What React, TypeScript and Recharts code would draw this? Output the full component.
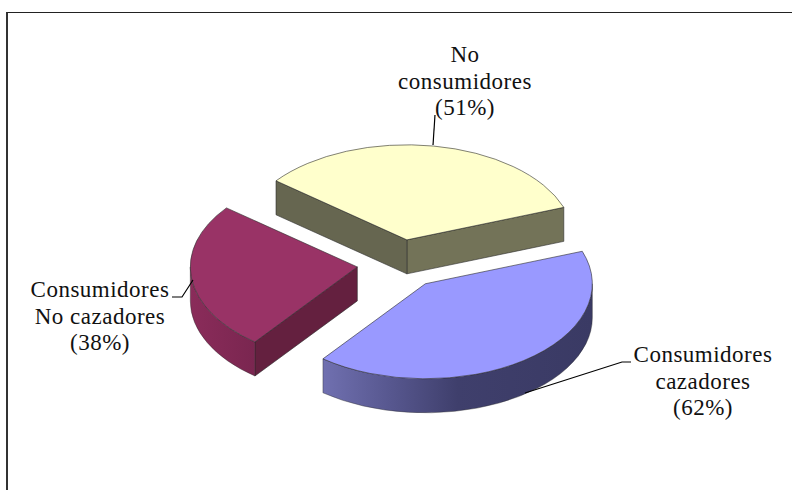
import React from 'react';
import { PieChart, Pie } from 'recharts';

const categories = ['No consumidores', 'Consumidores No cazadores', 'Consumidores cazadores'];
const percentages = [51, 38, 62];
const labelLines = [['No', 'consumidores'], ['Consumidores', 'No cazadores'], ['Consumidores', 'cazadores']];

const pieData = categories.map((name, i) => ({ name, value: percentages[i] }));

const WIDTH = 792;
const HEIGHT = 490;
const CX = 400;
const CY = 264;
const RADIUS = 167;
const TILT = 0.569; // vertical squash of the disc
const DEPTH = 34;
const EXPLODE = 43;

const topColors = ['#ffffcc', '#993366', '#9999ff'];
const startWallColors = ['#737358', '#7a2650', '#3c3c66'];
const endWallColors = ['#666650', '#64203f', '#3c3c66'];
const arcWallFills = ['#666650', 'url(#arcMaroon)', 'url(#arcBlue)'];

const labelAnchors = [
  { x: 465, y: 62, line: '433,145 435,115' },
  { x: 100, y: 297, line: '193,280 182,297 172,297' },
  { x: 703, y: 362, line: '525,393 622,362 631,362' },
];

const rad = (deg: number) => (deg * Math.PI) / 180;

function Slice(props: any) {
  const { cx, cy, outerRadius: r, startAngle, endAngle, index } = props;
  const mid = (startAngle + endAngle) / 2;
  const ox = cx + EXPLODE * Math.cos(rad(mid));
  const oy = cy - EXPLODE * TILT * Math.sin(rad(mid));
  const pt = (a: number, drop = 0) => [
    ox + r * Math.cos(rad(a)),
    oy - r * TILT * Math.sin(rad(a)) + drop,
  ];
  const ry = r * TILT;
  const arc = (to: number[], large: boolean, sweep: 0 | 1) =>
    `A${r} ${ry} 0 ${large ? 1 : 0} ${sweep} ${to[0]} ${to[1]}`;

  const s = pt(startAngle);
  const e = pt(endAngle);
  const top = `M${ox} ${oy}L${s[0]} ${s[1]}${arc(e, endAngle - startAngle > 180, 0)}Z`;
  const radialWall = (p: number[]) =>
    `M${ox} ${oy}L${p[0]} ${p[1]}L${p[0]} ${p[1] + DEPTH}L${ox} ${oy + DEPTH}Z`;

  // a radial wall shows when its outward normal points down the screen
  const showStart = Math.sin(rad(startAngle - 90)) < 0;
  const showEnd = Math.sin(rad(endAngle + 90)) < 0;

  // the rim is visible on the front half of the disc only
  const from = Math.max(startAngle, 180);
  const to = Math.min(endAngle, 360);
  let rim = null;
  if (to > from) {
    const a = pt(from);
    const b = pt(to);
    const a2 = pt(from, DEPTH);
    const b2 = pt(to, DEPTH);
    rim = `M${a[0]} ${a[1]}${arc(b, false, 0)}L${b2[0]} ${b2[1]}${arc(a2, false, 1)}Z`;
  }

  const edge = { stroke: '#2b2b2b', strokeWidth: 0.6, strokeLinejoin: 'round' as const };
  return (
    <g>
      {showStart && <path d={radialWall(s)} fill={startWallColors[index]} {...edge} />}
      {showEnd && <path d={radialWall(e)} fill={endWallColors[index]} {...edge} />}
      {rim && <path d={rim} fill={arcWallFills[index]} stroke="#2b2b2b" strokeWidth={0.4} />}
      <path d={top} fill={topColors[index]} {...edge} />
    </g>
  );
}

function SliceLabel(props: any) {
  const { index, value } = props;
  const { x, y, line } = labelAnchors[index];
  const rows = [...labelLines[index], `(${value}%)`];
  return (
    <g>
      <polyline points={line} fill="none" stroke="#000" strokeWidth={1.2} />
      {rows.map((row, i) => (
        <text
          key={row}
          x={x}
          y={y + i * 26.7}
          textAnchor="middle"
          fontFamily="'Liberation Serif', serif"
          fontSize={23}
          letterSpacing={0.5}
          fill="#111"
        >
          {row}
        </text>
      ))}
    </g>
  );
}

export default function App() {
  return (
    <div style={{ position: 'absolute', left: 0, top: 0, width: WIDTH, height: HEIGHT, background: '#fff', overflow: 'hidden' }}>
      <div style={{ position: 'absolute', left: 6, top: 12, width: 900, height: 600, borderLeft: '2px solid #333', borderTop: '1.5px solid #222' }} />
      <div style={{ position: 'absolute', left: 0, top: 0 }}>
        <PieChart width={WIDTH} height={HEIGHT} margin={{ top: 0, right: 0, bottom: 0, left: 0 }}>
          <defs>
            <linearGradient id="arcBlue" x1="0" y1="0" x2="1" y2="0">
              <stop offset="0" stopColor="#7070b0" />
              <stop offset="0.25" stopColor="#57578f" />
              <stop offset="0.5" stopColor="#3f3f6c" />
              <stop offset="1" stopColor="#3a3a64" />
            </linearGradient>
            <linearGradient id="arcMaroon" x1="0" y1="0" x2="1" y2="0">
              <stop offset="0" stopColor="#8a2c5a" />
              <stop offset="1" stopColor="#7a2650" />
            </linearGradient>
          </defs>
          <Pie
            data={pieData}
            dataKey="value"
            nameKey="name"
            cx={CX}
            cy={CY}
            outerRadius={RADIUS}
            startAngle={20}
            endAngle={380}
            paddingAngle={0}
            stroke="none"
            isAnimationActive={false}
            shape={Slice}
            label={SliceLabel}
            labelLine={false}
          />
        </PieChart>
      </div>
    </div>
  );
}
